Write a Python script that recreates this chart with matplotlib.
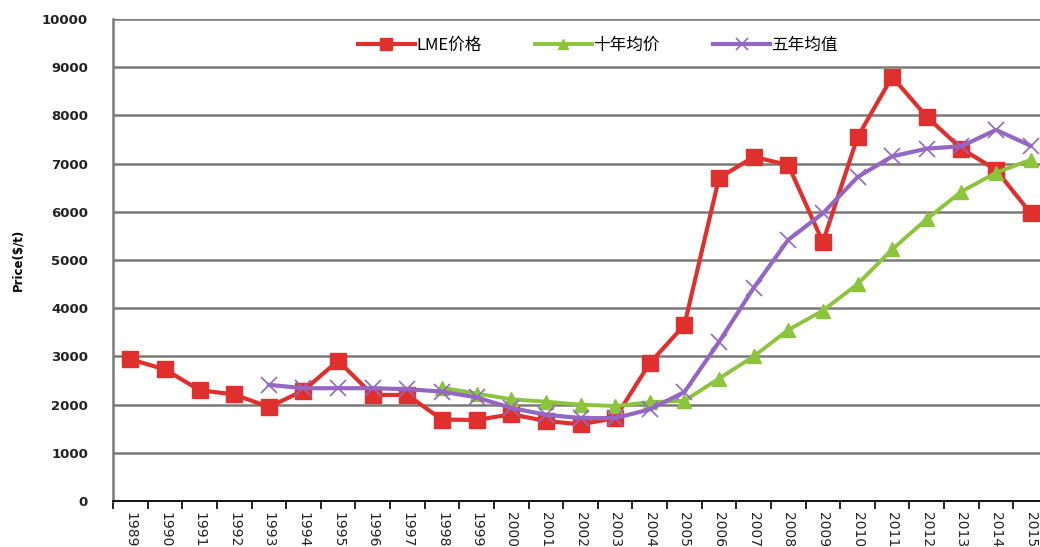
import matplotlib
matplotlib.use("Agg")
import matplotlib.pyplot as plt
from matplotlib.ticker import FixedLocator, NullFormatter

plt.rcParams['font.family'] = ['Noto Sans CJK SC', 'DejaVu Sans']

years = [str(y) for y in range(1989, 2016)]

lme_price = [2940, 2730, 2300, 2210, 1950, 2290, 2910, 2200, 2200, 1690, 1680, 1800,
             1660, 1590, 1720, 2860, 3650, 6700, 7140, 6970, 5370, 7550, 8800, 7970,
             7310, 6870, 5970]

ten_year_avg = [None] * 9 + [2350, 2230, 2110, 2060, 2000, 1970, 2050, 2080, 2540,
                             3000, 3550, 3950, 4500, 5220, 5850, 6420, 6810, 7080]

five_year_avg = [None] * 4 + [2410, 2340, 2340, 2340, 2320, 2270, 2150, 1930, 1790,
                              1720, 1720, 1900, 2260, 3300, 4420, 5420, 5970, 6720,
                              7150, 7310, 7360, 7700, 7370]

y_ticks = list(range(0, 10001, 1000))

RED = '#e0302e'
GREEN = '#8cc43c'
PURPLE = '#9467c4'

fig = plt.figure(figsize=(10.40, 5.47), dpi=100)
ax = fig.add_axes([113 / 1040, 46 / 547, 935 / 1040, 482 / 547])

x = list(range(len(years)))

def series(vals):
    xs = [i for i, v in zip(x, vals) if v is not None]
    ys = [v for v in vals if v is not None]
    return xs, ys

xr, yr = series(lme_price)
xg, yg = series(ten_year_avg)
xp, yp = series(five_year_avg)

ax.plot(xr, yr, color=RED, lw=3.0, marker='s', ms=12, mfc=RED, mec=RED,
        label='LME价格', zorder=3)
ax.plot(xg, yg, color=GREEN, lw=2.8, marker='^', ms=10, mfc=GREEN, mec=GREEN,
        label='十年均价', zorder=4)
ax.plot(xp, yp, color=PURPLE, lw=3.0, marker='x', ms=11, mew=1.2, mfc=PURPLE,
        mec=PURPLE, label='五年均值', zorder=5)

ax.set_xlim(-0.5, len(years) - 0.5)
ax.set_ylim(0, 10000)

ax.set_yticks(y_ticks)
ax.set_yticklabels([str(v) for v in y_ticks], fontsize=9.5, fontweight='bold',
                   family='DejaVu Sans', color='#222222')
ax.yaxis.grid(True, color='#7a7a7a', lw=1.8)
ax.set_axisbelow(True)
ax.tick_params(axis='y', length=0, pad=18)

ax.set_xticks(x)
ax.set_xticklabels(years, rotation=270, fontsize=10, family='DejaVu Sans',
                   color='#222222')
ax.tick_params(axis='x', which='major', length=0, pad=8)
ax.xaxis.set_minor_locator(FixedLocator([i + 0.5 for i in range(-1, len(years))]))
ax.xaxis.set_minor_formatter(NullFormatter())
ax.tick_params(axis='x', which='minor', length=6, width=1.3, direction='out',
               color='#111111')

for side in ('top', 'right'):
    ax.spines[side].set_visible(False)
ax.spines['left'].set_color('#7a7a7a')
ax.spines['left'].set_linewidth(1.8)
ax.spines['bottom'].set_color('#111111')
ax.spines['bottom'].set_linewidth(1.4)

ax.set_ylabel('Price($/t)', fontsize=8.5, fontweight='bold', family='DejaVu Sans')
ax.yaxis.set_label_coords(-0.095, 0.5)

leg = fig.legend(loc='center', bbox_to_anchor=(598 / 1040, 1 - 45 / 547), ncol=3,
                 frameon=False, fontsize=12, handlelength=3.4, columnspacing=3.2,
                 handletextpad=0.1, markerscale=0.75)

fig.savefig('out.png', dpi=100)
